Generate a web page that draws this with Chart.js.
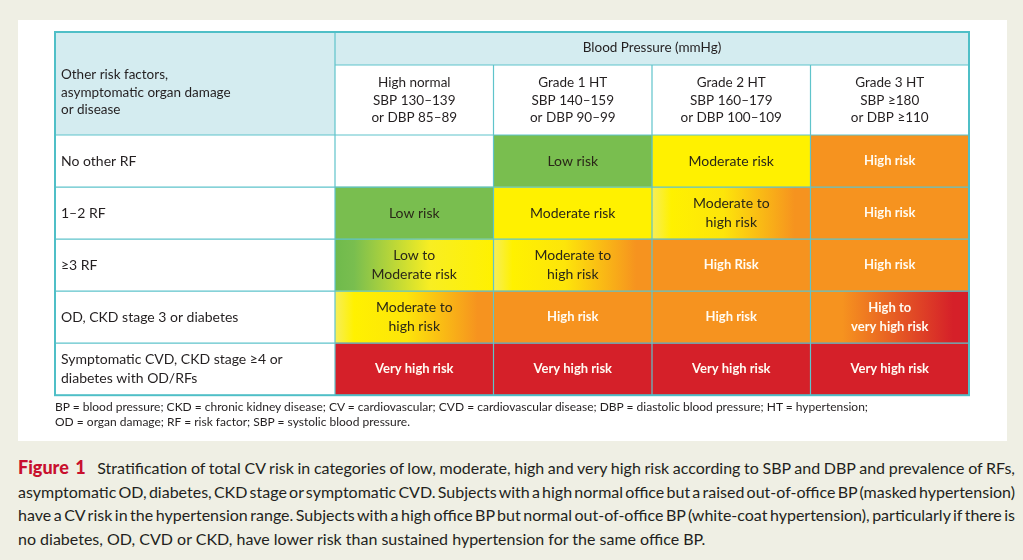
<!DOCTYPE html>
<html>
<head>
<meta charset="utf-8">
<script src="https://cdn.jsdelivr.net/npm/chart.js@4.4.1/dist/chart.umd.min.js"></script>
<style>
  html, body { margin: 0; padding: 0; }
  body { width: 1023px; height: 560px; background: #efefe4; position: relative; overflow: hidden; font-family: Lato, "Open Sans", sans-serif; color: #231f20; }
  #panel { position: absolute; left: 18px; top: 20px; width: 989px; height: 421px; background: #ffffff; }
  #riskChart { position: absolute; left: 0; top: 0; }
  #notes { position: absolute; left: 55px; top: 400px; font-size: 12px; line-height: 14.5px; }
  #caption { position: absolute; left: 18px; top: 456px; width: 997px; font-size: 16px; line-height: 23.7px; word-spacing: -2.5px; }
  #caption div { text-align: justify; text-align-last: justify; white-space: nowrap; }
  #caption div.last { text-align-last: left; word-spacing: 0; }
  #caption b { color: #c8102e; font-weight: 900; font-size: 18px; word-spacing: 0; margin-right: 8px; }
</style>
</head>
<body>
<div id="panel"></div>
<canvas id="riskChart" width="1023" height="408"></canvas>
<div id="notes">
  BP = blood pressure; CKD = chronic kidney disease; CV = cardiovascular; CVD = cardiovascular disease; DBP = diastolic blood pressure; HT = hypertension;<br>
  OD = organ damage; RF = risk factor; SBP = systolic blood pressure.
</div>
<div id="caption">
  <div><b>Figure 1</b> Stratification of total CV risk in categories of low, moderate, high and very high risk according to SBP and DBP and prevalence of RFs,</div>
  <div>asymptomatic OD, diabetes, CKD stage or symptomatic CVD. Subjects with a high normal office but a raised out-of-office BP (masked hypertension)</div>
  <div>have a CV risk in the hypertension range. Subjects with a high office BP but normal out-of-office BP (white-coat hypertension), particularly if there is</div>
  <div class="last">no diabetes, OD, CVD or CKD, have lower risk than sustained hypertension for the same office BP.</div>
</div>
<script>
// rows of the table (other risk factors)
const rowLabels = [
    'No other RF',
    '1–2 RF',
    '≥3 RF',
    'OD, CKD stage 3 or diabetes',
    ['Symptomatic CVD, CKD stage ≥4 or', 'diabetes with OD/RFs']
];

// columns (blood pressure grades)
const gradeLabels = [
    ['High normal', 'SBP 130–139', 'or DBP 85–89'],
    ['Grade 1 HT', 'SBP 140–159', 'or DBP 90–99'],
    ['Grade 2 HT', 'SBP 160–179', 'or DBP 100–109'],
    ['Grade 3 HT', 'SBP ≥180', 'or DBP ≥110']
];

// each cell spans one grade
const highNormalSpan = [1, 1, 1, 1, 1];
const grade1Span = [1, 1, 1, 1, 1];
const grade2Span = [1, 1, 1, 1, 1];
const grade3Span = [1, 1, 1, 1, 1];

// risk level per row, per grade
const riskLevels = [
    ['none', 'low', 'moderate', 'high'],
    ['low', 'moderate', 'modHigh', 'high'],
    ['lowMod', 'modHigh', 'high', 'high'],
    ['modHigh', 'high', 'high', 'highVery'],
    ['veryHigh', 'veryHigh', 'veryHigh', 'veryHigh']
];

const riskText = [
    ['', 'Low risk', 'Moderate risk', 'High risk'],
    ['Low risk', 'Moderate risk', ['Moderate to', 'high risk'], 'High risk'],
    [['Low to', 'Moderate risk'], ['Moderate to', 'high risk'], 'High Risk', 'High risk'],
    [['Moderate to', 'high risk'], 'High risk', 'High risk', ['High to', 'very high risk']],
    ['Very high risk', 'Very high risk', 'Very high risk', 'Very high risk']
];

const GREEN = '#79be4f';
const YELLOW = '#fff100';
const ORANGE = '#f6931f';
const RED = '#d52029';
const TEAL = '#5fc4cb';
const HEAD_BLUE = '#d4ecf0';
const DARK = '#2a2718';

const solidColors = { none: 'rgba(0,0,0,0)', low: GREEN, moderate: YELLOW, high: ORANGE, veryHigh: RED };
const gradientStops = {
    lowMod: [[0, '#6fba4c'], [0.12, GREEN], [0.6, '#f8ee22'], [1, YELLOW]],
    modHigh: [[0, '#f6ee5a'], [0.12, YELLOW], [0.45, '#fde50a'], [0.9, ORANGE], [1, ORANGE]],
    highVery: [[0, ORANGE], [0.2, ORANGE], [0.9, RED], [1, RED]]
};
const whiteText = ['high', 'veryHigh', 'highVery'];

function cellFill(context) {
    const level = riskLevels[context.dataIndex][context.datasetIndex];
    if (solidColors[level]) return solidColors[level];
    const chart = context.chart;
    const x = chart.scales.x;
    if (!chart.chartArea || !x) return YELLOW;
    const x0 = x.getPixelForValue(context.datasetIndex);
    const x1 = x.getPixelForValue(context.datasetIndex + 1);
    const g = chart.ctx.createLinearGradient(x0, 0, x1, 0);
    gradientStops[level].forEach(s => g.addColorStop(s[0], s[1]));
    return g;
}

const tablePlugin = {
    id: 'tablePlugin',
    beforeDraw(chart) {
        const ctx = chart.ctx;
        const top = chart.scales.xTop.top;
        const left = chart.scales.y.left - 6;
        const right = chart.chartArea.right;
        const midX = chart.chartArea.left;
        const headBottom = chart.chartArea.top;
        ctx.save();
        ctx.fillStyle = HEAD_BLUE;
        ctx.fillRect(left, top, right - left, 33);
        ctx.fillRect(left, top, midX - left, headBottom - top);
        ctx.fillStyle = '#231f20';
        ctx.font = '13.5px Lato';
        ctx.textAlign = 'left';
        ctx.textBaseline = 'middle';
        ['Other risk factors,', 'asymptomatic organ damage', 'or disease'].forEach((t, i) => {
            ctx.fillText(t, left + 6, 75 + i * 17.5);
        });
        ctx.restore();
    },
    afterDatasetsDraw(chart) {
        const ctx = chart.ctx;
        const area = chart.chartArea;
        const y = chart.scales.y;
        const x = chart.scales.x;
        const top = chart.scales.xTop.top;
        const left = chart.scales.y.left - 6;
        ctx.save();

        // cell labels
        ctx.textAlign = 'center';
        ctx.textBaseline = 'middle';
        chart.data.datasets.forEach((ds, col) => {
            chart.getDatasetMeta(col).data.forEach((bar, row) => {
                const p = bar.getProps(['x', 'y', 'base'], true);
                const cx = (p.x + p.base) / 2;
                const light = whiteText.includes(riskLevels[row][col]);
                ctx.fillStyle = light ? '#fffbf2' : DARK;
                ctx.font = light ? 'bold 13px Lato' : '14px Lato';
                const lines = [].concat(riskText[row][col]);
                lines.forEach((t, i) => {
                    ctx.fillText(t, cx, p.y + (i - (lines.length - 1) / 2) * 18.5);
                });
            });
        });

        // grid lines
        ctx.strokeStyle = TEAL;
        ctx.lineWidth = 1.2;
        ctx.beginPath();
        ctx.moveTo(area.left, top + 33);
        ctx.lineTo(area.right, top + 33);
        for (let r = 0; r < rowLabels.length; r++) {
            const py = y.getPixelForValue(r - 0.5);
            ctx.moveTo(left, py);
            ctx.lineTo(area.right, py);
        }
        for (let c = 0; c < gradeLabels.length; c++) {
            const px = x.getPixelForValue(c);
            ctx.moveTo(px, c === 0 ? top : top + 33);
            ctx.lineTo(px, area.bottom);
        }
        ctx.stroke();
        ctx.lineWidth = 2;
        ctx.strokeStyle = '#4fbfc7';
        ctx.strokeRect(left, top, area.right - left, area.bottom - top);
        ctx.restore();
    }
};

new Chart(document.getElementById('riskChart'), {
    type: 'bar',
    data: {
        labels: rowLabels,
        datasets: [
            { label: 'High normal', data: highNormalSpan, backgroundColor: cellFill },
            { label: 'Grade 1 HT', data: grade1Span, backgroundColor: cellFill },
            { label: 'Grade 2 HT', data: grade2Span, backgroundColor: cellFill },
            { label: 'Grade 3 HT', data: grade3Span, backgroundColor: cellFill }
        ]
    },
    options: {
        responsive: false,
        animation: false,
        devicePixelRatio: 1,
        indexAxis: 'y',
        events: [],
        layout: { padding: { left: 61, top: 32, right: 54, bottom: 0 } },
        datasets: {
            bar: {
                barPercentage: 1,
                categoryPercentage: 1,
                borderWidth: 0
            }
        },
        plugins: { legend: { display: false }, tooltip: { enabled: false }, colors: { enabled: false } },
        scales: {
            x: { type: 'linear', display: false, stacked: true, min: 0, max: 4 },
            xTop: {
                type: 'category',
                position: 'top',
                labels: gradeLabels,
                offset: true,
                grid: { display: false, drawTicks: false },
                border: { display: false },
                ticks: { color: '#231f20', font: { family: 'Lato', size: 13.5, lineHeight: 1.32 }, padding: 8, maxRotation: 0, autoSkip: false },
                title: { display: true, text: 'Blood Pressure (mmHg)', color: '#231f20', font: { family: 'Lato', size: 13.5 }, padding: { top: 8, bottom: 0 } },
                afterFit(scale) { scale.height = 103; }
            },
            y: {
                type: 'category',
                stacked: true,
                grid: { display: false, drawTicks: false },
                border: { display: false },
                ticks: { crossAlign: 'far', color: '#231f20', font: { family: 'Lato', size: 14, lineHeight: 1.4 }, autoSkip: false },
                afterFit(scale) { scale.width = 274; }
            }
        }
    },
    plugins: [tablePlugin]
});
</script>
</body>
</html>
